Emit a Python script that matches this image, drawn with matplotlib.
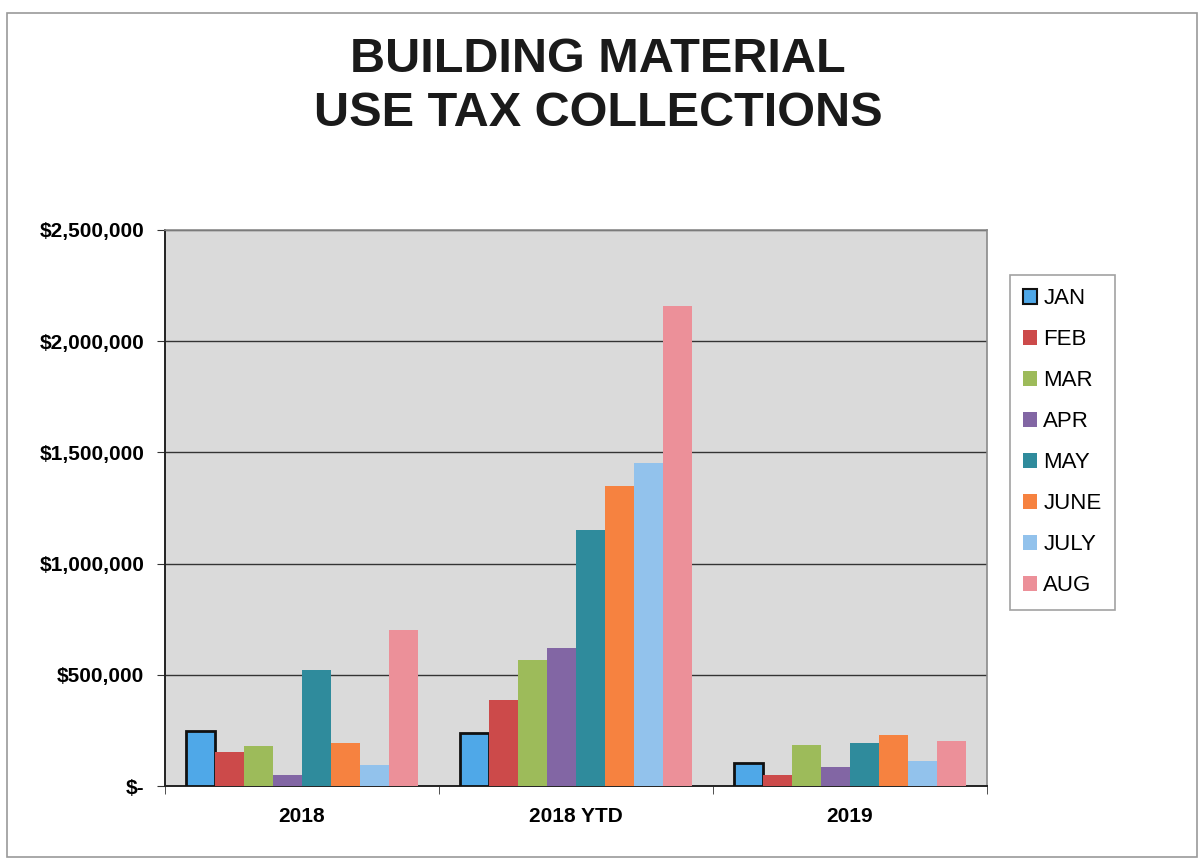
import matplotlib
matplotlib.use("Agg")
import matplotlib.pyplot as plt
import numpy as np
from matplotlib.patches import Rectangle
from matplotlib.ticker import FuncFormatter, FixedLocator

plt.rcParams['font.family'] = ['Liberation Sans', 'DejaVu Sans']

categories = ["2018", "2018 YTD", "2019"]
months = ["JAN", "FEB", "MAR", "APR", "MAY", "JUNE", "JULY", "AUG"]
jan = [247000, 238000, 103000]
feb = [153000, 387000, 50000]
mar = [180000, 567000, 184000]
apr = [50000, 620000, 85000]
may = [520000, 1151000, 193000]
june = [193000, 1349000, 229000]
july = [94000, 1452000, 112000]
aug = [700000, 2158000, 202000]
series = [jan, feb, mar, apr, may, june, july, aug]
colors = ["#4fa8e8", "#cc4a4a", "#9dbb5a", "#8266a4", "#2f8b9c", "#f68240", "#92c2ec", "#ec9099"]
yticks = [0, 500000, 1000000, 1500000, 2000000, 2500000]

fig = plt.figure(figsize=(12.04, 8.61), dpi=100)
fig.patches.append(Rectangle((7/1204, 4/861), 1190/1204, 844/861, transform=fig.transFigure,
                             fill=False, edgecolor="#9a9a9a", linewidth=1.2))
ax = fig.add_axes([165/1204, 1-786/861, 822/1204, 556/861])
ax.set_facecolor("#dadada")

x = np.arange(len(categories))
w = 0.106
for i, (vals, c, m) in enumerate(zip(series, colors, months)):
    if i == 0:
        ax.bar(x + (i - 3.5) * w, vals, w, color=c, edgecolor="#111111", linewidth=2, label=m, zorder=3)
    else:
        ax.bar(x + (i - 3.5) * w, vals, w, color=c, edgecolor="none", label=m, zorder=3)

ax.set_xlim(-0.5, 2.5)
ax.set_ylim(0, 2500000)
ax.set_yticks(yticks)
ax.yaxis.set_major_formatter(FuncFormatter(lambda v, p: "$-" if v == 0 else "${:,.0f}".format(v)))
ax.yaxis.grid(True, color="#333333", linewidth=1.0, zorder=1)
ax.set_axisbelow(True)
ax.set_xticks(x)
ax.set_xticklabels(categories, fontsize=15, fontweight="bold")
ax.xaxis.set_minor_locator(FixedLocator([-0.5, 0.5, 1.5, 2.5]))
ax.tick_params(axis="x", which="major", length=0, pad=15)
ax.tick_params(axis="x", which="minor", length=6, color="#333333")
ax.tick_params(axis="y", length=6, color="#333333", labelsize=15, pad=9)
for lab in ax.get_yticklabels():
    lab.set_fontweight("bold")
for s in ["left", "bottom"]:
    ax.spines[s].set_color("#222222")
    ax.spines[s].set_linewidth(1.4)
for s in ["top", "right"]:
    ax.spines[s].set_color("#8a8a8a")
    ax.spines[s].set_linewidth(1.2)

leg = ax.legend(loc="upper left", bbox_to_anchor=(1010/1204, 1-275/861), bbox_transform=fig.transFigure,
                frameon=True, fancybox=False, fontsize=16, handlelength=0.6, handleheight=0.6,
                handletextpad=0.3, labelspacing=0.9, borderpad=0.6, borderaxespad=0)
leg.get_frame().set_edgecolor("#8a8a8a")
leg.get_frame().set_linewidth(1.2)
for h in leg.legend_handles[1:]:
    h.set_edgecolor("none")
leg.legend_handles[0].set_linewidth(1.5)

fig.text(598/1204, 1-59/861, "BUILDING MATERIAL", ha="center", va="center", fontsize=35,
         fontweight="bold", color="#1a1a1a")
fig.text(598/1204, 1-113/861, "USE TAX COLLECTIONS", ha="center", va="center", fontsize=35,
         fontweight="bold", color="#1a1a1a")

fig.savefig("out.png", dpi=100, facecolor="white")
